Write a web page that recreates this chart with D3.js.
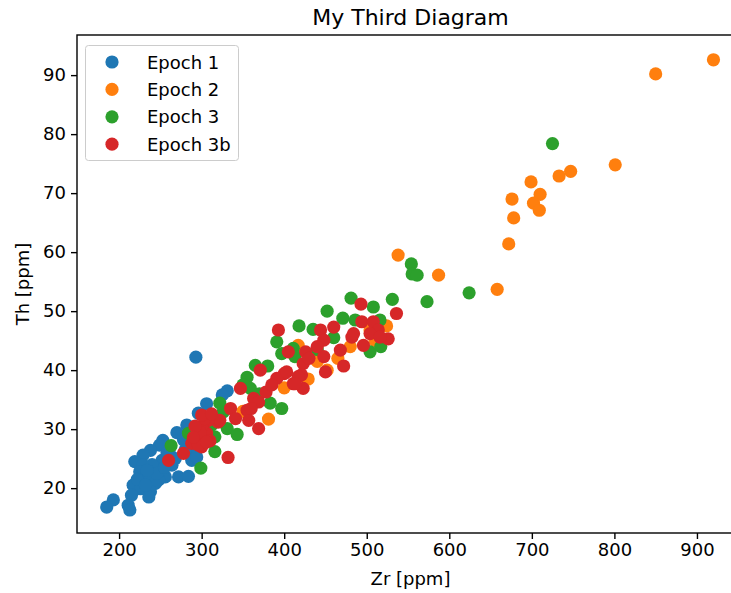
<!DOCTYPE html>
<html>
<head>
<meta charset="utf-8">
<script src="https://cdn.jsdelivr.net/npm/d3@7"></script>
<style>
  html, body { margin: 0; padding: 0; background: #fff; }
  svg { display: block; font-family: "DejaVu Sans", sans-serif; }
</style>
</head>
<body>
<svg id="chart" width="731" height="593"></svg>
<script>
const seriesNames = ["Epoch 1", "Epoch 2", "Epoch 3", "Epoch 3b"];
const seriesColors = ["#1f77b4", "#ff7f0e", "#2ca02c", "#d62728"];

const epoch1 = [[293,42.2],[331,36.5],[325,35.8],[306,34.3],[296,32.7],[282,30.7],[290,29.8],[270,29.4],[253,28.1],[249,27.3],[278,28.2],[262,27.0],[292,26.4],[238,26.4],[229,25.6],[262,25.6],[252,24.7],[288,24.7],[219,24.5],[229,23.9],[264,23.9],[244,23.3],[225,22.8],[233,21.9],[256,21.9],[272,21.9],[284,22.0],[248,21.4],[244,20.8],[217,20.5],[226,19.9],[238,19.4],[236,18.5],[215,18.8],[193,18.0],[211,17.1],[213,16.3],[185,16.8],[294,25.3],[300,28.5],[286,27.5],[240,24.0],[246,22.5],[234,23.0],[222,21.5],[258,26.0],[268,25.0],[280,26.5],[232,20.5],[255,23.5]];
const epoch2 = [[920,92.6],[850,90.2],[801,74.8],[747,73.7],[733,72.9],[699,71.9],[710,69.8],[676,69.0],[702,68.3],[709,67.1],[678,65.8],[672,61.4],[538,59.5],[587,56.1],[658,53.7],[524,47.5],[504,46.8],[417,44.2],[465,42.0],[452,40.0],[429,38.5],[381,31.7],[300,27.5],[350,33.0],[400,37.0],[480,44.0],[510,45.0],[440,41.5]];
const epoch3 = [[725,78.4],[554,58.0],[555,56.3],[561,56.1],[624,53.1],[573,51.6],[531,52.0],[481,52.2],[508,50.7],[516,48.5],[452,50.0],[418,47.5],[435,46.9],[471,48.8],[486,48.5],[504,43.1],[517,44.0],[411,43.7],[391,44.8],[397,42.8],[413,42.3],[365,40.8],[380,40.7],[355,38.8],[359,36.9],[397,33.5],[383,34.4],[326,32.9],[322,34.4],[312,30.7],[331,30.1],[343,29.1],[316,28.7],[316,26.2],[299,23.4],[263,27.2],[284,29.3],[440,43.5],[460,45.5],[350,37.5],[370,36.0]];
const epoch3b = [[493,51.2],[536,49.6],[526,45.3],[444,46.8],[460,47.3],[494,48.2],[508,48.2],[514,46.8],[472,40.7],[496,44.2],[482,45.6],[448,45.1],[426,43.1],[423,41.1],[450,39.7],[448,42.3],[468,43.4],[504,46.2],[421,39.2],[400,39.4],[411,37.7],[423,36.9],[484,46.2],[516,45.6],[393,46.8],[405,43.1],[347,36.9],[371,40.0],[391,38.6],[403,39.7],[417,38.9],[363,35.2],[335,33.5],[355,33.2],[369,34.6],[341,31.8],[357,31.5],[369,30.1],[320,31.2],[302,30.7],[294,29.0],[288,27.6],[300,27.0],[278,25.9],[332,25.2],[322,31.5],[306,29.3],[378,36.3],[413,37.7],[260,24.7],[296,28.4],[304,29.3],[308,31.5],[296,27.3],[300,30.4],[310,28.0],[298,29.5],[430,42.0],[440,44.0],[385,37.5],[360,33.5],[292,30.5],[304,31.8],[300,32.4],[290,28.6],[306,27.8],[312,32.6]];
const allSeries = [epoch1, epoch2, epoch3, epoch3b];

const xTicks = [200, 300, 400, 500, 600, 700, 800, 900];
const yTicks = [20, 30, 40, 50, 60, 70, 80, 90];

const titleText = "My Third Diagram";
const xLabel = "Zr [ppm]";
const yLabel = "Th [ppm]";

const svg = d3.select("#chart");
const L = 77, R = 744, T = 35, B = 533;
const x = d3.scaleLinear().domain([149, 957]).range([L, R]);
const y = d3.scaleLinear().domain([12.4, 96.8]).range([B, T]);
const fs = 18;

svg.append("defs").append("clipPath").attr("id", "clip")
  .append("rect").attr("x", L).attr("y", T).attr("width", R - L).attr("height", B - T);

const pts = svg.append("g").attr("clip-path", "url(#clip)");
allSeries.forEach((s, i) => {
  pts.append("g").selectAll("circle").data(s).join("circle")
    .attr("cx", d => x(d[0])).attr("cy", d => y(d[1]))
    .attr("r", 6.6).attr("fill", seriesColors[i]);
});

// axes
const xAxis = svg.append("g").attr("transform", `translate(0,${B})`)
  .call(d3.axisBottom(x).tickValues(xTicks).tickSize(6).tickPadding(4));
const yAxis = svg.append("g").attr("transform", `translate(${L},0)`)
  .call(d3.axisLeft(y).tickValues(yTicks).tickSize(6).tickPadding(5));
[xAxis, yAxis].forEach(a => {
  a.select(".domain").remove();
  a.selectAll("text").attr("font-size", fs).attr("font-family", "DejaVu Sans").attr("fill", "#000");
  a.selectAll("line").attr("stroke", "#000").attr("stroke-width", 1.4);
});

// frame
svg.append("rect").attr("x", L).attr("y", T).attr("width", R - L).attr("height", B - T)
  .attr("fill", "none").attr("stroke", "#000").attr("stroke-width", 1.4);

// title and labels
svg.append("text").attr("x", (L + R) / 2).attr("y", 25).attr("text-anchor", "middle")
  .attr("font-size", 22).text(titleText);
svg.append("text").attr("x", (L + R) / 2).attr("y", 585).attr("text-anchor", "middle")
  .attr("font-size", fs).text(xLabel);
svg.append("text").attr("transform", `translate(29,${(T + B) / 2}) rotate(-90)`)
  .attr("text-anchor", "middle").attr("font-size", fs).text(yLabel);

// legend
const lg = svg.append("g");
lg.append("rect").attr("x", 85.5).attr("y", 45.5).attr("width", 153).attr("height", 115)
  .attr("rx", 3).attr("fill", "#fff").attr("fill-opacity", 0.8).attr("stroke", "#ccc").attr("stroke-width", 1);
seriesNames.forEach((n, i) => {
  const cy = 62 + i * 27.4;
  lg.append("circle").attr("cx", 112).attr("cy", cy).attr("r", 6.6).attr("fill", seriesColors[i]);
  lg.append("text").attr("x", 147).attr("y", cy + 6.5).attr("font-size", fs).text(n);
});
</script>
</body>
</html>
